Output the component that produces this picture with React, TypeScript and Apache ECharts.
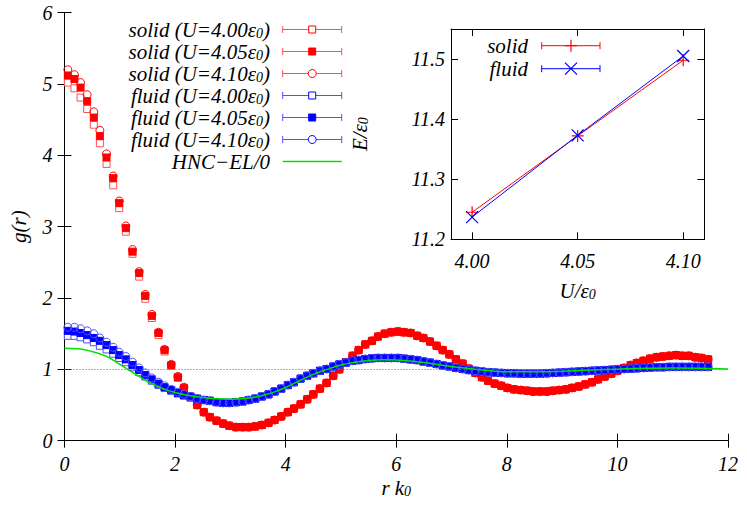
import React, { useEffect, useRef } from "react";
import * as echarts from "echarts";

// ---------- data ----------
const rGrid = [
  0.06, 0.18, 0.29, 0.41, 0.53, 0.64, 0.76, 0.88, 0.99, 1.11,
  1.23, 1.35, 1.46, 1.58, 1.70, 1.81, 1.93, 2.05, 2.16, 2.28,
  2.40, 2.52, 2.63, 2.75, 2.87, 2.98, 3.10, 3.22, 3.33, 3.45,
  3.57, 3.69, 3.80, 3.92, 4.04, 4.15, 4.27, 4.39, 4.50, 4.62,
  4.74, 4.86, 4.97, 5.09, 5.21, 5.32, 5.44, 5.56, 5.67, 5.79,
  5.91, 6.03, 6.14, 6.26, 6.38, 6.49, 6.61, 6.73, 6.84, 6.96,
  7.08, 7.20, 7.31, 7.43, 7.55, 7.66, 7.78, 7.90, 8.01, 8.13,
  8.25, 8.37, 8.48, 8.60, 8.72, 8.83, 8.95, 9.07, 9.18, 9.30,
  9.42, 9.54, 9.65, 9.77, 9.89, 10.00, 10.12, 10.24, 10.35, 10.47,
  10.59, 10.71, 10.82, 10.94, 11.06, 11.17, 11.29, 11.41, 11.52, 11.64,
];

const solid400 = [
  5.02, 4.94, 4.81, 4.65, 4.43, 4.17, 3.88, 3.58, 3.26, 2.93,
  2.62, 2.30, 1.99, 1.72, 1.48, 1.25, 1.05, 0.88, 0.73, 0.60,
  0.50, 0.40, 0.33, 0.28, 0.24, 0.21, 0.19, 0.19, 0.19, 0.20,
  0.22, 0.25, 0.29, 0.34, 0.40, 0.45, 0.51, 0.58, 0.65, 0.73,
  0.81, 0.91, 1.00, 1.10, 1.19, 1.27, 1.35, 1.40, 1.46, 1.50,
  1.52, 1.53, 1.52, 1.51, 1.47, 1.44, 1.39, 1.33, 1.27, 1.21,
  1.14, 1.08, 1.01, 0.95, 0.89, 0.84, 0.80, 0.77, 0.74, 0.72,
  0.71, 0.70, 0.69, 0.69, 0.69, 0.70, 0.71, 0.72, 0.74, 0.76,
  0.79, 0.82, 0.86, 0.90, 0.94, 0.98, 1.02, 1.06, 1.09, 1.12,
  1.15, 1.17, 1.18, 1.19, 1.20, 1.19, 1.19, 1.17, 1.16, 1.14,
];
const solid405 = [
  5.12, 5.07, 4.95, 4.76, 4.53, 4.27, 3.97, 3.68, 3.33, 2.98,
  2.65, 2.35, 2.03, 1.75, 1.51, 1.27, 1.06, 0.89, 0.74, 0.61,
  0.50, 0.40, 0.33, 0.28, 0.24, 0.21, 0.19, 0.19, 0.19, 0.20,
  0.22, 0.25, 0.29, 0.34, 0.40, 0.45, 0.51, 0.58, 0.65, 0.73,
  0.81, 0.91, 1.00, 1.10, 1.19, 1.27, 1.35, 1.40, 1.46, 1.50,
  1.52, 1.53, 1.52, 1.51, 1.47, 1.44, 1.39, 1.33, 1.27, 1.21,
  1.14, 1.08, 1.01, 0.95, 0.89, 0.84, 0.80, 0.77, 0.74, 0.72,
  0.71, 0.70, 0.69, 0.69, 0.69, 0.70, 0.71, 0.72, 0.74, 0.76,
  0.79, 0.82, 0.86, 0.90, 0.94, 0.98, 1.02, 1.06, 1.09, 1.12,
  1.15, 1.17, 1.18, 1.19, 1.20, 1.19, 1.19, 1.17, 1.16, 1.14,
];
const solid410 = [
  5.20, 5.13, 5.02, 4.85, 4.61, 4.35, 4.02, 3.71, 3.36, 3.01,
  2.68, 2.37, 2.05, 1.77, 1.52, 1.28, 1.07, 0.90, 0.75, 0.62,
  0.50, 0.40, 0.33, 0.28, 0.24, 0.21, 0.19, 0.19, 0.19, 0.20,
  0.22, 0.25, 0.29, 0.34, 0.40, 0.45, 0.51, 0.58, 0.65, 0.73,
  0.81, 0.91, 1.00, 1.10, 1.19, 1.27, 1.35, 1.40, 1.46, 1.50,
  1.52, 1.53, 1.52, 1.51, 1.47, 1.44, 1.39, 1.33, 1.27, 1.21,
  1.14, 1.08, 1.01, 0.95, 0.89, 0.84, 0.80, 0.77, 0.74, 0.72,
  0.71, 0.70, 0.69, 0.69, 0.69, 0.70, 0.71, 0.72, 0.74, 0.76,
  0.79, 0.82, 0.86, 0.90, 0.94, 0.98, 1.02, 1.06, 1.09, 1.12,
  1.15, 1.17, 1.18, 1.19, 1.20, 1.19, 1.19, 1.17, 1.16, 1.14,
];

const fluid400 = [
  1.47, 1.47, 1.45, 1.42, 1.38, 1.33, 1.28, 1.22, 1.16, 1.10,
  1.03, 0.96, 0.90, 0.84, 0.78, 0.74, 0.70, 0.66, 0.63, 0.61,
  0.59, 0.57, 0.56, 0.54, 0.53, 0.53, 0.54, 0.55, 0.57, 0.59,
  0.62, 0.65, 0.69, 0.73, 0.78, 0.82, 0.87, 0.91, 0.945, 0.98,
  1.005, 1.04, 1.07, 1.095, 1.12, 1.13, 1.145, 1.155, 1.16, 1.16,
  1.16, 1.16, 1.15, 1.14, 1.13, 1.11, 1.095, 1.075, 1.055, 1.04,
  1.02, 1.005, 0.99, 0.98, 0.97, 0.96, 0.955, 0.95, 0.945, 0.945,
  0.94, 0.94, 0.94, 0.94, 0.945, 0.95, 0.955, 0.96, 0.965, 0.97,
  0.975, 0.98, 0.985, 0.99, 0.995, 1.0, 1.005, 1.01, 1.015, 1.02,
  1.025, 1.03, 1.03, 1.035, 1.035, 1.035, 1.035, 1.035, 1.035, 1.035,
];
const fluid405 = [
  1.54, 1.53, 1.51, 1.48, 1.44, 1.40, 1.34, 1.27, 1.20, 1.14,
  1.06, 0.99, 0.92, 0.86, 0.80, 0.75, 0.71, 0.67, 0.64, 0.62,
  0.59, 0.57, 0.56, 0.54, 0.53, 0.53, 0.54, 0.55, 0.57, 0.59,
  0.62, 0.65, 0.69, 0.73, 0.78, 0.82, 0.87, 0.91, 0.945, 0.98,
  1.005, 1.04, 1.07, 1.095, 1.12, 1.13, 1.145, 1.155, 1.16, 1.16,
  1.16, 1.16, 1.15, 1.14, 1.13, 1.11, 1.095, 1.075, 1.055, 1.04,
  1.02, 1.005, 0.99, 0.98, 0.97, 0.96, 0.955, 0.95, 0.945, 0.945,
  0.94, 0.94, 0.94, 0.94, 0.945, 0.95, 0.955, 0.96, 0.965, 0.97,
  0.975, 0.98, 0.985, 0.99, 0.995, 1.0, 1.005, 1.01, 1.015, 1.02,
  1.025, 1.03, 1.03, 1.035, 1.035, 1.035, 1.035, 1.035, 1.035, 1.035,
];
const fluid410 = [
  1.59, 1.59, 1.57, 1.54, 1.50, 1.44, 1.38, 1.31, 1.24, 1.18,
  1.10, 1.02, 0.95, 0.88, 0.82, 0.77, 0.72, 0.68, 0.65, 0.62,
  0.59, 0.57, 0.56, 0.54, 0.53, 0.53, 0.54, 0.55, 0.57, 0.59,
  0.62, 0.65, 0.69, 0.73, 0.78, 0.82, 0.87, 0.91, 0.945, 0.98,
  1.005, 1.04, 1.07, 1.095, 1.12, 1.13, 1.145, 1.155, 1.16, 1.16,
  1.16, 1.16, 1.15, 1.14, 1.13, 1.11, 1.095, 1.075, 1.055, 1.04,
  1.02, 1.005, 0.99, 0.98, 0.97, 0.96, 0.955, 0.95, 0.945, 0.945,
  0.94, 0.94, 0.94, 0.94, 0.945, 0.95, 0.955, 0.96, 0.965, 0.97,
  0.975, 0.98, 0.985, 0.99, 0.995, 1.0, 1.005, 1.01, 1.015, 1.02,
  1.025, 1.03, 1.03, 1.035, 1.035, 1.035, 1.035, 1.035, 1.035, 1.035,
];

const hncR = [
  0, 0.25, 0.5, 0.75, 1.0, 1.25, 1.5, 1.75, 2.0, 2.25, 2.5, 2.75, 3.0,
  3.25, 3.5, 3.75, 4.0, 4.25, 4.5, 4.75, 5.0, 5.25, 5.5, 5.75, 6.0,
  6.5, 7.0, 7.5, 8.0, 8.5, 9.0, 9.5, 10.0, 10.5, 11.0, 11.5, 12.0,
];
const hncG = [
  1.295, 1.29, 1.25, 1.185, 1.07, 0.95, 0.83, 0.74, 0.675, 0.635, 0.605, 0.588, 0.58,
  0.59, 0.62, 0.67, 0.745, 0.84, 0.93, 1.0, 1.06, 1.1, 1.125, 1.135, 1.13,
  1.095, 1.04, 0.995, 0.965, 0.965, 0.975, 0.99, 1.003, 1.015, 1.02, 1.017, 1.005,
];

const xTicksMain = [0, 2, 4, 6, 8, 10, 12];
const yTicksMain = [0, 1, 2, 3, 4, 5, 6];
const xTickLabelsMain = ["0", "2", "4", "6", "8", "10", "12"];
const yTickLabelsMain = ["0", "1", "2", "3", "4", "5", "6"];

const insetU = [4.0, 4.05, 4.1];
const insetSolidE = [11.245, 11.372, 11.498];
const insetFluidE = [11.237, 11.373, 11.505];
const insetUTicks = [4.0, 4.05, 4.1];
const insetUTickLabels = ["4.00", "4.05", "4.10"];
const insetETicks = [11.2, 11.3, 11.4, 11.5];
const insetETickLabels = ["11.2", "11.3", "11.4", "11.5"];

const legendLabels = [
  { pre: "solid (U=4.00ε", sub: "0", post: ")" },
  { pre: "solid (U=4.05ε", sub: "0", post: ")" },
  { pre: "solid (U=4.10ε", sub: "0", post: ")" },
  { pre: "fluid (U=4.00ε", sub: "0", post: ")" },
  { pre: "fluid (U=4.05ε", sub: "0", post: ")" },
  { pre: "fluid (U=4.10ε", sub: "0", post: ")" },
  { pre: "HNC−EL/0", sub: "", post: "" },
];

// ---------- styling ----------
const SERIF = "Liberation Serif";
const RED = "#ff0000";
const RED_L = "#ff5050";
const BLUE = "#0000ff";
const BLUE_L = "#5050ff";
const GREEN = "#00e000";

const richTxt = {
  a: { fontFamily: SERIF, fontStyle: "italic", fontSize: 21, lineHeight: 18, color: "#000" },
  s: { fontFamily: SERIF, fontStyle: "italic", fontSize: 14, lineHeight: 10, color: "#000", padding: [7, 0, 0, 0] },
  t: { fontFamily: SERIF, fontStyle: "italic", fontSize: 20, lineHeight: 20, color: "#000" },
};
const axisLine = { show: true, lineStyle: { color: "#000", width: 1 } };

const MAIN = { left: 62.7, top: 12.7, width: 665.3, height: 428 };
const INSET = { left: 451, top: 29, width: 253.3, height: 210.3 };

const App: React.FC = () => {
  const ref = useRef<HTMLDivElement>(null);

  useEffect(() => {
    document.body.style.margin = "0";
    if (!ref.current) return;
    const chart = echarts.init(ref.current, null, { renderer: "svg" });

    const pts = (ys: number[]) => rGrid.map((r, i) => [r, ys[i]]);

    const scatter = (name: string, ys: number[], symbol: string, fill: string, stroke: string, size: number) => ({
      name,
      type: "scatter",
      xAxisIndex: 0,
      yAxisIndex: 0,
      data: pts(ys),
      symbol,
      symbolSize: size,
      itemStyle: { color: fill, borderColor: stroke, borderWidth: 1, opacity: 1 },
      emphasis: { disabled: true },
      silent: true,
    });

    const legendEls: any[] = [];
    const colors = [RED, RED, RED, BLUE, BLUE, BLUE];
    const lightColors = [RED_L, RED_L, RED_L, BLUE_L, BLUE_L, BLUE_L];
    const kinds = ["osq", "fsq", "oci", "osq", "fsq", "oci"];
    const textRight = 270;
    const lx1 = 282.7;
    const lx2 = 341.7;
    const mx = 312.2;
    legendLabels.forEach((lab, k) => {
      const y = 29.5 + k * 22;
      legendEls.push({
        type: "text",
        x: textRight,
        y: y,
        style: {
          text: lab.sub ? `{a|${lab.pre}}{s|${lab.sub}}{a|${lab.post}}` : `{a|${lab.pre}}`,
          rich: richTxt,
          align: "right",
          verticalAlign: "middle",
        },
      });
      if (k < 6) {
        const c = colors[k];
        const lc = lightColors[k];
        legendEls.push({ type: "line", shape: { x1: lx1, y1: y, x2: lx2, y2: y }, style: { stroke: lc, lineWidth: 1 } });
        legendEls.push({ type: "line", shape: { x1: lx1, y1: y - 3.5, x2: lx1, y2: y + 3.5 }, style: { stroke: lc, lineWidth: 1 } });
        legendEls.push({ type: "line", shape: { x1: lx2, y1: y - 3.5, x2: lx2, y2: y + 3.5 }, style: { stroke: lc, lineWidth: 1 } });
        const kind = kinds[k];
        if (kind === "osq") {
          legendEls.push({ type: "rect", shape: { x: mx - 3.5, y: y - 3.5, width: 7, height: 7 }, style: { fill: "#fff", stroke: c, lineWidth: 1 } });
        } else if (kind === "fsq") {
          legendEls.push({ type: "rect", shape: { x: mx - 3.5, y: y - 3.5, width: 7, height: 7 }, style: { fill: c, stroke: c, lineWidth: 1 } });
        } else {
          legendEls.push({ type: "circle", shape: { cx: mx, cy: y, r: 4 }, style: { fill: "#fff", stroke: c, lineWidth: 1 } });
        }
      } else {
        legendEls.push({ type: "line", shape: { x1: lx1, y1: y, x2: lx2, y2: y }, style: { stroke: GREEN, lineWidth: 1.5 } });
      }
    });

    const iy1 = 45.7;
    const iy2 = 68.7;
    const ix1 = 541.7;
    const ix2 = 600;
    const imx = 571;
    [
      { t: "solid", y: iy1, c: RED },
      { t: "fluid", y: iy2, c: BLUE },
    ].forEach((e, k) => {
      legendEls.push({
        type: "text",
        x: 528,
        y: e.y,
        style: { text: `{a|${e.t}}`, rich: richTxt, align: "right", verticalAlign: "middle" },
      });
      legendEls.push({ type: "line", shape: { x1: ix1, y1: e.y, x2: ix2, y2: e.y }, style: { stroke: e.c, lineWidth: 1 } });
      legendEls.push({ type: "line", shape: { x1: ix1, y1: e.y - 3.5, x2: ix1, y2: e.y + 3.5 }, style: { stroke: e.c, lineWidth: 1 } });
      legendEls.push({ type: "line", shape: { x1: ix2, y1: e.y - 3.5, x2: ix2, y2: e.y + 3.5 }, style: { stroke: e.c, lineWidth: 1 } });
      if (k === 0) {
        legendEls.push({ type: "line", shape: { x1: imx - 6, y1: e.y, x2: imx + 6, y2: e.y }, style: { stroke: e.c, lineWidth: 1.2 } });
        legendEls.push({ type: "line", shape: { x1: imx, y1: e.y - 6, x2: imx, y2: e.y + 6 }, style: { stroke: e.c, lineWidth: 1.2 } });
      } else {
        legendEls.push({ type: "line", shape: { x1: imx - 6, y1: e.y - 6, x2: imx + 6, y2: e.y + 6 }, style: { stroke: e.c, lineWidth: 1.2 } });
        legendEls.push({ type: "line", shape: { x1: imx - 6, y1: e.y + 6, x2: imx + 6, y2: e.y - 6 }, style: { stroke: e.c, lineWidth: 1.2 } });
      }
    });

    const tickIn = (custom: number[]) => ({
      show: true, inside: true, length: 7, customValues: custom,
      lineStyle: { color: "#000", width: 1 },
    });
    const noLabel = { show: false };

    const option: any = {
      animation: false,
      backgroundColor: "#fff",
      grid: [
        { ...MAIN, containLabel: false },
        { ...INSET, containLabel: false },
      ],
      xAxis: [
        {
          type: "value", gridIndex: 0, position: "bottom", min: 0, max: 12,
          axisLine, axisTick: tickIn(xTicksMain), splitLine: { show: false }, axisLabel: noLabel,
          name: "{a|r k}{s|0}", nameLocation: "middle", nameGap: 38,
          nameTextStyle: { rich: richTxt },
        },
        {
          type: "value", gridIndex: 0, position: "top", min: 0, max: 12,
          axisLine, axisTick: tickIn(xTicksMain), splitLine: { show: false }, axisLabel: noLabel,
        },
        {
          type: "value", gridIndex: 1, position: "bottom", min: 3.99, max: 4.11,
          axisLine, axisTick: tickIn(insetUTicks), splitLine: { show: false }, axisLabel: noLabel,
          name: "{a|U/ε}{s|0}", nameLocation: "middle", nameGap: 43,
          nameTextStyle: { rich: richTxt },
        },
        {
          type: "value", gridIndex: 1, position: "top", min: 3.99, max: 4.11,
          axisLine, axisTick: tickIn(insetUTicks), splitLine: { show: false }, axisLabel: noLabel,
        },
      ],
      yAxis: [
        {
          type: "value", gridIndex: 0, position: "left", min: 0, max: 6,
          axisLine, axisTick: tickIn(yTicksMain), splitLine: { show: false }, axisLabel: noLabel,
          name: "{a|g(r)}", nameLocation: "middle", nameGap: 37, nameRotate: 90,
          nameTextStyle: { rich: richTxt },
        },
        {
          type: "value", gridIndex: 0, position: "right", min: 0, max: 6,
          axisLine, axisTick: tickIn(yTicksMain), splitLine: { show: false }, axisLabel: noLabel,
        },
        {
          type: "value", gridIndex: 1, position: "left", min: 11.2, max: 11.55,
          axisLine, axisTick: tickIn(insetETicks), splitLine: { show: false }, axisLabel: noLabel,
          name: "{a|E/ε}{s|0}", nameLocation: "middle", nameGap: 82, nameRotate: 90,
          nameTextStyle: { rich: richTxt },
        },
        {
          type: "value", gridIndex: 1, position: "right", min: 11.2, max: 11.55,
          axisLine, axisTick: tickIn(insetETicks), splitLine: { show: false }, axisLabel: noLabel,
        },
      ],
      series: [
        {
          ...scatter("solid (U=4.00)", solid400, "rect", "#fff", RED_L, 7),
          markLine: {
            silent: true,
            symbol: "none",
            label: { show: false },
            lineStyle: { type: [1, 2], color: "#666", width: 1 },
            data: [{ yAxis: 1 }],
          },
        },
        scatter("solid (U=4.05)", solid405, "rect", RED, RED, 7),
        scatter("solid (U=4.10)", solid410, "circle", "transparent", RED, 8),
        scatter("fluid (U=4.00)", fluid400, "rect", "#fff", BLUE_L, 7),
        scatter("fluid (U=4.05)", fluid405, "rect", BLUE, BLUE, 7),
        scatter("fluid (U=4.10)", fluid410, "circle", "transparent", BLUE_L, 8),
        {
          name: "HNC-EL/0",
          type: "line",
          xAxisIndex: 0,
          yAxisIndex: 0,
          data: hncR.map((r, i) => [r, hncG[i]]),
          smooth: 0.4,
          showSymbol: false,
          symbol: "none",
          lineStyle: { color: GREEN, width: 1.5 },
          silent: true,
        },
        {
          name: "solid",
          type: "line",
          xAxisIndex: 2,
          yAxisIndex: 2,
          data: insetU.map((u, i) => [u, insetSolidE[i]]),
          symbol: "path://M0,5L10,5M5,0L5,10",
          symbolSize: 12,
          lineStyle: { color: RED, width: 1 },
          itemStyle: { color: RED, borderColor: RED, borderWidth: 1.2 },
          silent: true,
        },
        {
          name: "fluid",
          type: "line",
          xAxisIndex: 2,
          yAxisIndex: 2,
          data: insetU.map((u, i) => [u, insetFluidE[i]]),
          symbol: "path://M0,0L10,10M0,10L10,0",
          symbolSize: 12,
          lineStyle: { color: BLUE, width: 1 },
          itemStyle: { color: BLUE, borderColor: BLUE, borderWidth: 1.2 },
          silent: true,
        },
      ],
      graphic: { elements: legendEls },
    };

    chart.setOption(option);

    // tick labels placed through the axes' own scales
    const tickEls: any[] = [];
    const mainBottom = chart.convertToPixel({ yAxisIndex: 0 }, 0) as number;
    const mainLeft = chart.convertToPixel({ xAxisIndex: 0 }, 0) as number;
    xTicksMain.forEach((v, i) => {
      const px = chart.convertToPixel({ xAxisIndex: 0 }, v) as number;
      tickEls.push({
        type: "text", x: px, y: mainBottom + 13,
        style: { text: `{t|${xTickLabelsMain[i]}}`, rich: richTxt, align: "center", verticalAlign: "top" },
      });
    });
    yTicksMain.forEach((v, i) => {
      const py = chart.convertToPixel({ yAxisIndex: 0 }, v) as number;
      tickEls.push({
        type: "text", x: mainLeft - 12, y: py,
        style: { text: `{t|${yTickLabelsMain[i]}}`, rich: richTxt, align: "right", verticalAlign: "middle" },
      });
    });
    const insetBottom = chart.convertToPixel({ yAxisIndex: 2 }, 11.2) as number;
    const insetLeft = chart.convertToPixel({ xAxisIndex: 2 }, 3.99) as number;
    insetUTicks.forEach((v, i) => {
      const px = chart.convertToPixel({ xAxisIndex: 2 }, v) as number;
      tickEls.push({
        type: "text", x: px, y: insetBottom + 12,
        style: { text: `{t|${insetUTickLabels[i]}}`, rich: richTxt, align: "center", verticalAlign: "top" },
      });
    });
    insetETicks.forEach((v, i) => {
      const py = chart.convertToPixel({ yAxisIndex: 2 }, v) as number;
      tickEls.push({
        type: "text", x: insetLeft - 6, y: py,
        style: { text: `{t|${insetETickLabels[i]}}`, rich: richTxt, align: "right", verticalAlign: "middle" },
      });
    });
    chart.setOption({ graphic: { elements: [...legendEls, ...tickEls] } });

    return () => chart.dispose();
  }, []);

  return <div ref={ref} style={{ width: 747, height: 510 }} />;
};

export default App;
